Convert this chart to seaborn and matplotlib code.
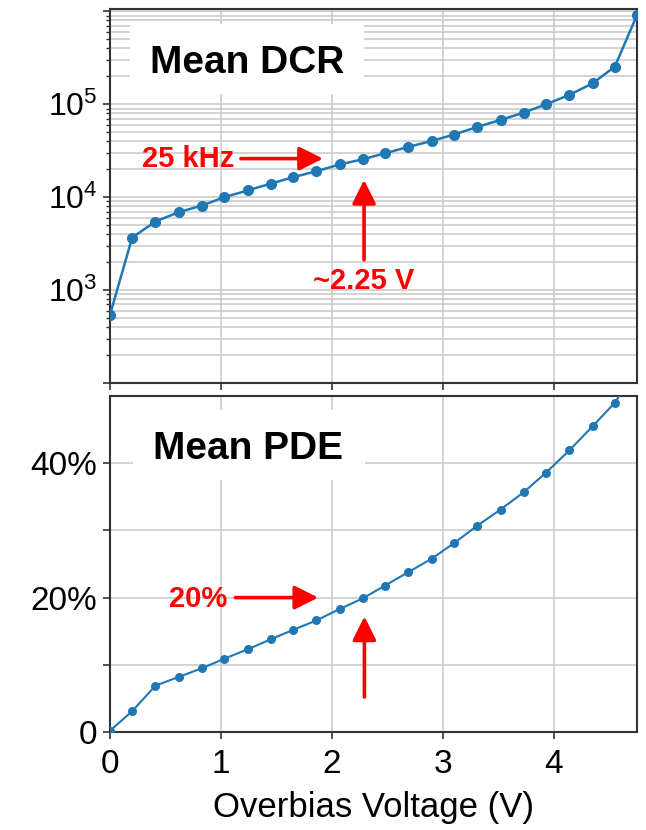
import matplotlib
matplotlib.use("Agg")
import numpy as np
import pandas as pd
import seaborn as sns
import matplotlib.pyplot as plt
from matplotlib.patches import Rectangle
from matplotlib.ticker import FixedLocator, FixedFormatter, LogLocator, NullFormatter

# ---- data ----
overbias_v = [0.0, 0.20, 0.41, 0.62, 0.83, 1.03, 1.24, 1.45, 1.65, 1.86, 2.07, 2.28,
              2.48, 2.69, 2.90, 3.10, 3.31, 3.52, 3.73, 3.93, 4.14, 4.35, 4.55, 4.75]
dcr_hz = [543, 3680, 5470, 6900, 8130, 10000, 11800, 14000, 16400, 19000, 22500, 25600,
          29700, 34800, 40300, 47200, 57000, 67900, 81300, 100000, 126000, 168000, 254000, 914000]
pde_pct = [0.2, 3.1, 6.9, 8.2, 9.5, 10.9, 12.3, 13.8, 15.2, 16.6, 18.3, 19.9,
           21.8, 23.8, 25.8, 28.1, 30.7, 33.1, 35.7, 38.6, 41.9, 45.5, 49.0, 54.0]

x_ticks = [0, 1, 2, 3, 4]
dcr_ticks = [1e2, 1e3, 1e4, 1e5, 1e6]
dcr_tick_labels = ["", r"$\mathdefault{10^{3}}$", r"$\mathdefault{10^{4}}$", r"$\mathdefault{10^{5}}$", ""]
pde_ticks = [0, 10, 20, 30, 40]
pde_tick_labels = ["0", "", "20%", "", "40%"]

df = pd.DataFrame({"v": overbias_v, "dcr": dcr_hz, "pde": pde_pct})

sns.set_theme(style="white")
plt.rcParams["font.family"] = ["Liberation Sans", "DejaVu Sans"]
plt.rcParams["mathtext.fontset"] = "custom"
plt.rcParams["mathtext.rm"] = "Liberation Sans"
plt.rcParams["mathtext.it"] = "Liberation Sans:italic"
plt.rcParams["mathtext.bf"] = "Liberation Sans:bold"
plt.rcParams["text.color"] = "black"
plt.rcParams["axes.labelcolor"] = "black"
plt.rcParams["xtick.labelcolor"] = "black"
plt.rcParams["ytick.labelcolor"] = "black"

W, H = 646, 830
fig = plt.figure(figsize=(W / 100, H / 100), dpi=100)
ax1 = fig.add_axes([110 / W, 447 / H, 527 / W, 374 / H])
ax2 = fig.add_axes([110 / W, 98 / H, 527 / W, 336 / H])

blue = "#1f77b4"
grid_c = "#c8c8c8"
spine_c = "#333333"
red = "#ff0000"

# ---- top: DCR ----
sns.lineplot(data=df, x="v", y="dcr", ax=ax1, marker="o", markersize=8,
             linewidth=1.8, color=blue, markeredgewidth=0, zorder=3)
ax1.set_yscale("log")
ax1.set_xlim(0, 4.75)
ax1.set_ylim(100, 1.06e6)
ax1.xaxis.set_major_locator(FixedLocator(x_ticks))
ax1.yaxis.set_major_locator(FixedLocator(dcr_ticks))
ax1.yaxis.set_major_formatter(FixedFormatter(dcr_tick_labels))
ax1.yaxis.set_minor_locator(LogLocator(base=10, subs=range(2, 10), numticks=20))
ax1.yaxis.set_minor_formatter(NullFormatter())
ax1.set_axisbelow(True)
ax1.grid(True, which="both", axis="y", color=grid_c, lw=1.1)
ax1.grid(True, which="major", axis="x", color=grid_c, lw=1.1)
ax1.tick_params(axis="y", which="major", direction="out", length=5, width=1.2,
                color=spine_c, labelcolor="black", labelsize=23, pad=4, left=True)
ax1.tick_params(axis="y", which="minor", direction="out", length=3, width=1.0,
                color=spine_c, left=True)
ax1.tick_params(axis="x", which="major", direction="out", length=5, width=1.2,
                color=spine_c, bottom=True, labelbottom=False)
ax1.set_xlabel("")
ax1.set_ylabel("")

ax1.add_patch(Rectangle((0.183, 1.28e5), 2.287 - 0.183, 7.31e5 - 1.28e5,
                        facecolor="white", edgecolor="none", zorder=1.5))
ax1.text(1.237, 2.75e5, "Mean DCR", fontsize=28, fontweight="bold", color="black",
         ha="center", va="center", zorder=4)

arrow_kw = dict(arrowstyle="-|>,head_length=0.72,head_width=0.36", lw=2.6, color=red,
                shrinkA=0, shrinkB=0, mutation_scale=20)
ax1.text(0.70, 26000, "25 kHz", fontsize=21, fontweight="bold", color=red,
         ha="center", va="center", zorder=4)
ax1.annotate("", xy=(1.92, 26000), xytext=(1.18, 26000), arrowprops=arrow_kw, zorder=4)
ax1.annotate("", xy=(2.29, 15350), xytext=(2.29, 2120), arrowprops=arrow_kw, zorder=4)
ax1.text(2.29, 1250, "~2.25 V", fontsize=21, fontweight="bold", color=red,
         ha="center", va="center", zorder=4)

# ---- bottom: PDE ----
sns.lineplot(data=df, x="v", y="pde", ax=ax2, marker="o", markersize=6.5,
             linewidth=1.5, color=blue, markeredgewidth=0, zorder=3)
ax2.set_xlim(0, 4.75)
ax2.set_ylim(0, 50)
ax2.xaxis.set_major_locator(FixedLocator(x_ticks))
ax2.yaxis.set_major_locator(FixedLocator(pde_ticks))
ax2.yaxis.set_major_formatter(FixedFormatter(pde_tick_labels))
ax2.set_axisbelow(True)
ax2.grid(True, which="major", color=grid_c, lw=1.1)
ax2.tick_params(axis="both", which="major", direction="out", length=5, width=1.2,
                color=spine_c, labelcolor="black", labelsize=24, left=True, bottom=True)
ax2.tick_params(axis="y", pad=4)
ax2.tick_params(axis="x", pad=7)
ax2.set_xlabel("Overbias Voltage (V)", fontsize=25, labelpad=8, color="black")
ax2.set_ylabel("")

ax2.add_patch(Rectangle((0.205, 37.5), 2.297 - 0.205, 47.9 - 37.5,
                        facecolor="white", edgecolor="none", zorder=1.5))
ax2.text(1.246, 42.1, "Mean PDE", fontsize=28, fontweight="bold", color="black",
         ha="center", va="center", zorder=4)
ax2.text(0.79, 19.8, "20%", fontsize=21, fontweight="bold", color=red,
         ha="center", va="center", zorder=4)
ax2.annotate("", xy=(1.877, 20.0), xytext=(1.13, 20.0), arrowprops=arrow_kw, zorder=4)
ax2.annotate("", xy=(2.293, 17.2), xytext=(2.293, 5.2), arrowprops=arrow_kw, zorder=4)

for ax in (ax1, ax2):
    for s in ax.spines.values():
        s.set_color(spine_c)
        s.set_linewidth(1.5)
        s.set_visible(True)

fig.savefig("out.png", dpi=100, facecolor="white")
